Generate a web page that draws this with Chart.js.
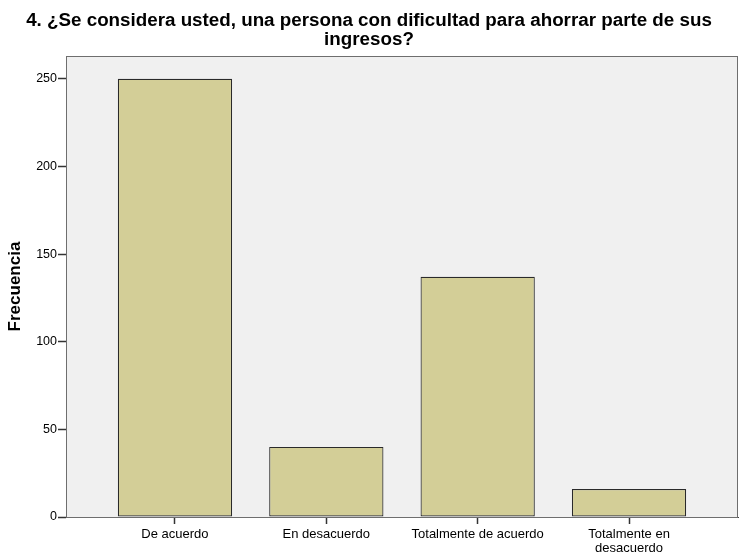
<!DOCTYPE html>
<html>
<head>
<meta charset="utf-8">
<script src="https://cdn.jsdelivr.net/npm/chart.js@4/dist/chart.umd.min.js"></script>
<style>
  body { margin: 0; background: #fff; }
  #wrap { width: 739px; height: 554px; position: relative; }
</style>
</head>
<body>
<div id="wrap"><canvas id="chart"></canvas></div>
<script>
const titleLines = ["4. ¿Se considera usted, una persona con dificultad para ahorrar parte de sus", "ingresos?"];
const categories = ["De acuerdo", "En desacuerdo", "Totalmente de acuerdo", ["Totalmente en", "desacuerdo"]];
const frecuencias = [250, 40, 137, 16];
const yTicks = [0, 50, 100, 150, 200, 250];

const FONT = "'Liberation Sans', Arial, sans-serif";

// gray plot panel with a frame, like the stats package draws it
const panel = {
  id: 'panel',
  beforeDraw(chart) {
    const { ctx, chartArea: a } = chart;
    ctx.save();
    ctx.fillStyle = '#f0f0f0';
    ctx.fillRect(a.left, a.top, a.right - a.left, a.bottom - a.top);
    ctx.restore();
  },
  afterDraw(chart) {
    const { ctx, chartArea: a } = chart;
    ctx.save();
    ctx.strokeStyle = '#6e6e6e';
    ctx.lineWidth = 1;
    ctx.strokeRect(a.left + 0.5, a.top + 0.5, a.right - a.left - 1, a.bottom - a.top);
    ctx.restore();
  }
};

new Chart(document.getElementById('chart'), {
  type: 'bar',
  data: {
    datasets: [{
      data: frecuencias.map((v, i) => ({ x: i, y: v })),
      backgroundColor: '#d3ce97',
      borderColor: '#2a2a2a',
      borderWidth: 1.2,
      borderSkipped: false,
      barPercentage: 0.755,
      categoryPercentage: 1
    }]
  },
  options: {
    responsive: true,
    maintainAspectRatio: false,
    animation: false,
    layout: { padding: { left: 0, right: 1, top: 0, bottom: 0 } },
    plugins: {
      legend: { display: false },
      tooltip: { enabled: false },
      title: {
        display: true,
        text: titleLines,
        color: '#000',
        font: { family: FONT, size: 18.8, weight: 'bold', lineHeight: '19px' },
        padding: { top: 11, bottom: 7 }
      }
    },
    scales: {
      x: {
        type: 'linear',
        offset: false,
        min: -0.72,
        max: 3.72,
        afterBuildTicks: s => { s.ticks = categories.map((c, i) => ({ value: i })); },
        afterFit: s => { s.height = 37; },
        grid: { offset: false, drawOnChartArea: false, tickLength: 7, color: '#333', tickWidth: 1.5 },
        border: { display: true, color: '#444', width: 1 },
        ticks: {
          autoSkip: false,
          maxRotation: 0,
          padding: 4,
          color: '#000',
          font: { family: FONT, size: 13, lineHeight: 1.05 },
          callback: v => categories[v]
        }
      },
      y: {
        min: 0,
        max: 263,
        afterBuildTicks: s => { s.ticks = yTicks.map(v => ({ value: v })); },
        afterFit: s => { s.width = 66; },
        grid: { drawOnChartArea: false, tickLength: 8, color: '#333', tickWidth: 1.5 },
        border: { display: true, color: '#444', width: 1 },
        ticks: {
          padding: 1,
          color: '#000',
          font: { family: FONT, size: 12.5 }
        },
        title: {
          display: true,
          text: 'Frecuencia',
          color: '#000',
          font: { family: FONT, size: 17, weight: 'bold' },
          padding: { top: 5, bottom: 0 }
        }
      }
    }
  },
  plugins: [panel]
});
</script>
</body>
</html>
